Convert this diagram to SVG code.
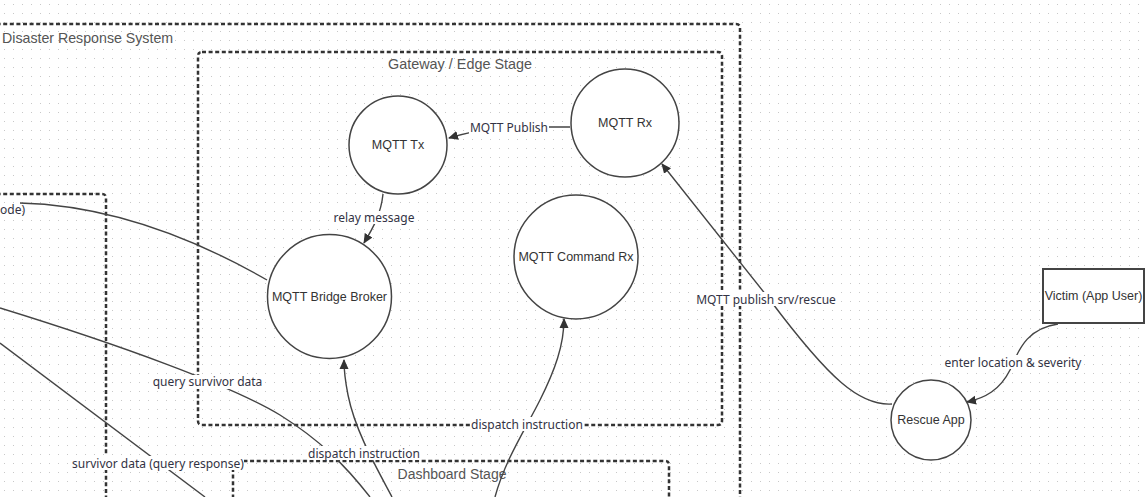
<svg xmlns="http://www.w3.org/2000/svg" width="1147" height="497" viewBox="0 0 1147 497">
  <style>
    .node { fill: #ffffff; stroke: #444444; stroke-width: 1.5; }
    .nlabel { font-family: "Liberation Sans", Arial, sans-serif; font-size: 12.5px; fill: #333333; text-anchor: middle; dominant-baseline: central; }
    .elabel { font-family: "Noto Sans", "DejaVu Sans", sans-serif; font-size: 12px; fill: #333344; text-anchor: middle; dominant-baseline: central; }
    .lblbg { fill: #ffffff; }
    .group { fill: none; stroke: #333333; stroke-width: 2.5; stroke-dasharray: 4 2.6; }
    .glabel { font-family: "Liberation Sans", Arial, sans-serif; font-size: 14px; fill: #555555; }
    .edge { fill: none; stroke: #444444; stroke-width: 1.4; }
  </style>
  <defs>
    <pattern id="grid" width="9" height="9" patternUnits="userSpaceOnUse">
      <rect x="4" y="4" width="1" height="1" fill="#c8c8c8"/>
    </pattern>
    <marker id="arrow" viewBox="0 0 10 10" refX="9" refY="5" markerWidth="10" markerHeight="10" markerUnits="userSpaceOnUse" orient="auto">
      <path d="M0,0.5 L10,5 L0,9.5 Z" fill="#333333"/>
    </marker>
  </defs>

  <rect width="1147" height="497" fill="#ffffff"/>
  <rect width="1147" height="497" fill="url(#grid)"/>

  <!-- Groups / containers -->
  <g id="disaster-response-system">
    <path class="group" d="M-10,24 L736,24 Q740,24 740,28 L740,505"/>
    <text class="glabel" x="2" y="43" style="font-size:14.2px">Disaster Response System</text>
  </g>
  <g id="left-stage">
    <path class="group" d="M-10,194 L102,194 Q106,194 106,198 L106,505"/>
  </g>
  <g id="gateway-edge-stage">
    <path class="group" d="M202,52 L718,52 Q722,52 722,56 L722,421 Q722,425 718,425 L202,425 Q198,425 198,421 L198,56 Q198,52 202,52 Z"/>
    <text class="glabel" x="460" y="69" text-anchor="middle" style="font-size:14.4px">Gateway / Edge Stage</text>
  </g>
  <g id="dashboard-stage">
    <path class="group" d="M233,505 L233,465 Q233,461 237,461 L665,461 Q669,461 669,465 L669,505"/>
    <text class="glabel" x="452" y="479" text-anchor="middle">Dashboard Stage</text>
  </g>

  <!-- Connectors -->
  <g id="connectors">
    <path class="edge" d="M20,203 C100,205 180,230 267,280"/>
    <path class="edge" d="M0,308 C120,345 230,385 280,415 C320,440 345,465 370,497"/>
    <path class="edge" d="M0,343 L205,497"/>
    <path class="edge" marker-end="url(#arrow)" d="M392,497 C375,465 355,430 348,395 C345,380 344,370 344,360"/>
    <path class="edge" marker-end="url(#arrow)" d="M495,497 C505,460 525,430 540,400 C555,370 564,345 564,319"/>
    <path class="edge" marker-end="url(#arrow)" d="M570,127 L540,127 C500,127 475,130 449,138"/>
    <path class="edge" marker-end="url(#arrow)" d="M383,194 C381,214 373,228 364,243"/>
    <path class="edge" marker-end="url(#arrow)" d="M892,404 C860,406 830,380 770,300 L662,164"/>
    <path class="edge" marker-end="url(#arrow)" d="M1058,324 C1030,328 1020,345 1010,370 C1000,390 985,398 967,402"/>

    <!-- connector labels -->
    <rect class="lblbg" x="469" y="120" width="80" height="14"/>
    <text class="elabel" x="509" y="127">MQTT Publish</text>
    <rect class="lblbg" x="333" y="211" width="82" height="13"/>
    <text class="elabel" x="374" y="217.5">relay message</text>
    <text class="elabel" x="0" y="209" style="text-anchor:start">ode)</text>
    <rect class="lblbg" x="152" y="375" width="111" height="14"/>
    <text class="elabel" x="207.5" y="381.5">query survivor data</text>
    <rect class="lblbg" x="71" y="456" width="173" height="14"/>
    <text class="elabel" x="158" y="463">survivor data (query response)</text>
    <rect class="lblbg" x="307" y="446" width="114" height="14"/>
    <text class="elabel" x="364" y="453">dispatch instruction</text>
    <rect class="lblbg" x="470" y="417" width="114" height="14"/>
    <text class="elabel" x="527" y="424">dispatch instruction</text>
    <rect class="lblbg" x="695" y="292" width="143" height="14"/>
    <text class="elabel" x="766" y="299">MQTT publish srv/rescue</text>
    <rect class="lblbg" x="942" y="355" width="142" height="14"/>
    <text class="elabel" x="1013" y="362">enter location &amp; severity</text>
  </g>

  <!-- Nodes -->
  <g id="mqtt-tx">
    <circle class="node" cx="398" cy="145" r="49"/>
    <text class="nlabel" x="398" y="145">MQTT Tx</text>
  </g>
  <g id="mqtt-rx">
    <circle class="node" cx="625" cy="123" r="54"/>
    <text class="nlabel" x="625" y="123">MQTT Rx</text>
  </g>
  <g id="mqtt-bridge-broker">
    <circle class="node" cx="329.5" cy="296.5" r="62"/>
    <text class="nlabel" x="329.5" y="296.5">MQTT Bridge Broker</text>
  </g>
  <g id="mqtt-command-rx">
    <circle class="node" cx="576" cy="257" r="62"/>
    <text class="nlabel" x="576" y="257">MQTT Command Rx</text>
  </g>
  <g id="rescue-app">
    <circle class="node" cx="931" cy="420" r="40"/>
    <text class="nlabel" x="931" y="420">Rescue App</text>
  </g>
  <g id="victim">
    <rect x="1043" y="269" width="101" height="54" fill="#ffffff" stroke="#444444" stroke-width="2"/>
    <text class="nlabel" x="1093.5" y="296">Victim (App User)</text>
  </g>
</svg>
